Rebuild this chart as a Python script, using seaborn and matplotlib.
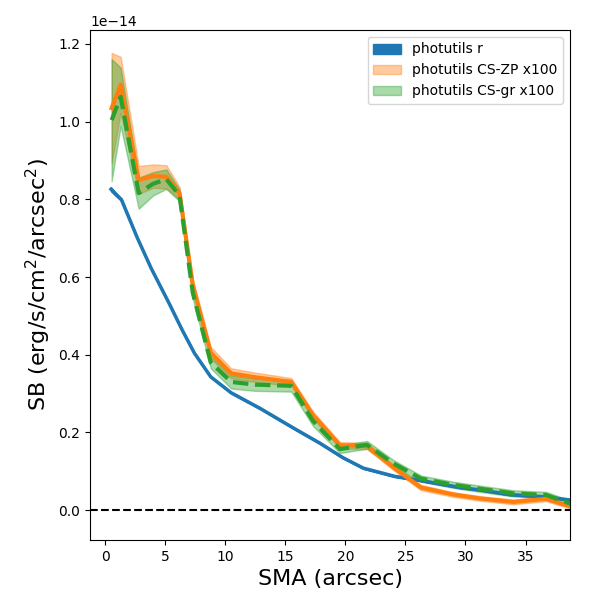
import numpy as np
import pandas as pd
import matplotlib
matplotlib.use("Agg")
import matplotlib.pyplot as plt
import seaborn as sns

SCALE = 1e-14

# photutils r profile
sma_r = [0.5, 0.9, 1.37, 2.0, 2.7, 3.85, 5.37, 6.4, 7.44, 8.8, 10.5, 12.9, 15.7,
         17.9, 19.8, 21.5, 24.1, 26.3, 29.6, 31.2, 33.7, 36.7, 38.7]
sb_r = [0.826, 0.813, 0.799, 0.752, 0.700, 0.622, 0.530, 0.465, 0.404, 0.343, 0.302,
        0.262, 0.211, 0.172, 0.135, 0.108, 0.087, 0.076, 0.058, 0.052, 0.040, 0.034, 0.026]
err_r = [0.005, 0.004, 0.003, 0.003, 0.002, 0.002, 0.002, 0.002, 0.002, 0.002, 0.002,
         0.002, 0.002, 0.002, 0.002, 0.002, 0.002, 0.002, 0.002, 0.002, 0.002, 0.002, 0.002]

# CS profiles (x100)
sma_cs = [0.55, 1.3, 2.8, 4.0, 5.1, 6.2, 7.3, 8.8, 10.5, 12.5, 15.5, 17.3, 19.55,
          21.8, 24.0, 26.3, 29.0, 31.2, 34.0, 36.7, 38.7]
sb_zp = [1.035, 1.095, 0.850, 0.860, 0.858, 0.816, 0.580, 0.405, 0.352, 0.342, 0.330,
         0.245, 0.167, 0.165, 0.110, 0.058, 0.040, 0.030, 0.021, 0.029, 0.010]
err_zp = [0.142, 0.072, 0.036, 0.030, 0.030, 0.016, 0.015, 0.015, 0.013, 0.012, 0.010,
          0.009, 0.008, 0.008, 0.007, 0.007, 0.006, 0.006, 0.006, 0.006, 0.006]
sb_gr = [1.004, 1.064, 0.816, 0.840, 0.852, 0.810, 0.560, 0.380, 0.330, 0.323, 0.320,
         0.230, 0.157, 0.168, 0.120, 0.081, 0.065, 0.055, 0.043, 0.039, 0.017]
err_gr = [0.157, 0.075, 0.040, 0.030, 0.025, 0.015, 0.015, 0.015, 0.017, 0.016, 0.015,
          0.013, 0.010, 0.010, 0.009, 0.008, 0.008, 0.008, 0.008, 0.008, 0.008]

labels = ["photutils r", "photutils CS-ZP x100", "photutils CS-gr x100"]
c_blue, c_orange, c_green = "#1f77b4", "#ff7f0e", "#2ca02c"

df_r = pd.DataFrame({"sma": sma_r, "sb": np.array(sb_r) * SCALE, "err": np.array(err_r) * SCALE})
df_cs = pd.DataFrame({"sma": sma_cs,
                      "zp": np.array(sb_zp) * SCALE, "ezp": np.array(err_zp) * SCALE,
                      "gr": np.array(sb_gr) * SCALE, "egr": np.array(err_gr) * SCALE})

fig, ax = plt.subplots(figsize=(6, 6), dpi=100)
fig.subplots_adjust(left=0.15, right=0.95, top=0.95, bottom=0.10)

h1 = ax.fill_between(df_r["sma"], df_r["sb"] - df_r["err"], df_r["sb"] + df_r["err"],
                     color=c_blue, alpha=1.0, label=labels[0])
sns.lineplot(data=df_r, x="sma", y="sb", ax=ax, color=c_blue, lw=2.5)

h2 = ax.fill_between(df_cs["sma"], df_cs["zp"] - df_cs["ezp"], df_cs["zp"] + df_cs["ezp"],
                     color=c_orange, alpha=0.4, label=labels[1])
sns.lineplot(data=df_cs, x="sma", y="zp", ax=ax, color=c_orange, lw=3)

h3 = ax.fill_between(df_cs["sma"], df_cs["gr"] - df_cs["egr"], df_cs["gr"] + df_cs["egr"],
                     color=c_green, alpha=0.4, label=labels[2])
sns.lineplot(data=df_cs, x="sma", y="gr", ax=ax, color=c_green, lw=3, linestyle="--")

ax.axhline(0, color="black", ls="--", lw=1.5)

ax.set_xlim(-1.25, 38.7)
ax.set_ylim(-0.077 * SCALE, 1.236 * SCALE)
ax.set_xlabel("SMA (arcsec)", fontsize=16)
ax.set_ylabel(r"SB (erg/s/cm$^2$/arcsec$^2$)", fontsize=16)
ax.legend(handles=[h1, h2, h3], labels=labels, loc="upper right")

fig.savefig("out.png", dpi=100)
